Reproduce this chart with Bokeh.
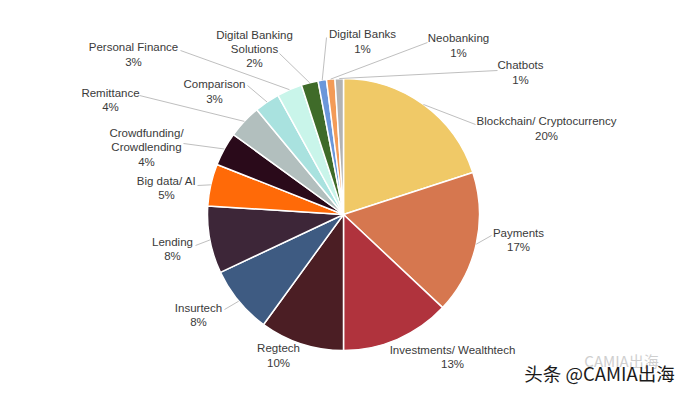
import math
from bokeh.plotting import figure
from bokeh.models import ColumnDataSource, Range1d
from bokeh.core.properties import value
from bokeh.embed import file_html
from bokeh.resources import INLINE

# ---- data ----
categories = ["Blockchain/ Cryptocurrency", "Payments", "Investments/ Wealthtech", "Regtech",
              "Insurtech", "Lending", "Big data/ AI", "Crowdfunding/\nCrowdlending", "Remittance",
              "Comparison", "Personal Finance", "Digital Banking\nSolutions", "Digital Banks",
              "Neobanking", "Chatbots"]
shares = [20, 17, 13, 10, 8, 8, 5, 4, 4, 3, 3, 2, 1, 1, 1]

# ---- styles ----
colors = ["#F0C967", "#D6774F", "#B0333D", "#4B1E24", "#3E5B82", "#3D2638", "#FF6A08",
          "#2A0A1A", "#B2BFBE", "#A9E2DF", "#C9F5EA", "#3F6B29", "#6B97DA", "#F39B57", "#B3B3B3"]

# ---- layout (page pixel coordinates) ----
label_x = [546, 518, 452, 278, 198, 172, 166, 146, 110, 214, 133, 254, 362, 458, 520]
label_y = [128, 239.5, 356.5, 355, 314.5, 248.5, 187.5, 147, 99.5, 91, 54, 48.5, 41, 45, 72]
anchor_x = [475, 491, None, None, 224, 195, 197, 183, 139, 247, 180, 279, 326, 427, 497]
anchor_y = [124, 235, None, None, 309, 245, 185, 143, 95, 85, 50, 53, 37, 42, 70]

W, H = 680, 385
M = 0


def fx(px):
    return px - M


def fy(py):
    return H + M - py


cx, cy, R = fx(343), fy(214), 136

total = float(sum(shares))
starts, ends, mids = [], [], []
acc = 0.0
for v in shares:
    a0 = acc / total
    acc += v
    a1 = acc / total
    starts.append(math.pi / 2 - 2 * math.pi * a0)
    ends.append(math.pi / 2 - 2 * math.pi * a1)
    mids.append(math.pi / 2 - 2 * math.pi * (a0 + a1) / 2)

p = figure(width=W, height=H, output_backend="svg", toolbar_location=None,
           x_range=Range1d(0, W), y_range=Range1d(0, H),
           x_axis_type=None, y_axis_type=None, min_border=0)
p.outline_line_color = None
p.grid.visible = False
p.background_fill_color = "white"
p.border_fill_color = "white"

src = ColumnDataSource(dict(start=starts, end=ends, color=colors))
p.wedge(x=cx, y=cy, radius=R, start_angle="start", end_angle="end", direction="clock",
        fill_color="color", line_color="white", line_width=1.5, source=src)

# leader lines
xs, ys = [], []
for i in range(len(shares)):
    if anchor_x[i] is None:
        continue
    ex = cx + R * math.cos(mids[i])
    ey = cy + R * math.sin(mids[i])
    xs.append([fx(anchor_x[i]), ex])
    ys.append([fy(anchor_y[i]), ey])
p.multi_line(xs=xs, ys=ys, line_color="#BFBFBF", line_width=1)

labels = [f"{c}\n{v}%" for c, v in zip(categories, shares)]
lsrc = ColumnDataSource(dict(x=[fx(v) for v in label_x], y=[fy(v) for v in label_y], t=labels))
p.text(x="x", y="y", text="t", source=lsrc, text_align="center", text_baseline="middle",
       text_font=value("Liberation Sans"), text_font_size="11.5px", text_color="#3A3A3A",
       text_line_height=1.2)

# watermark
p.text(x=[fx(621)], y=[fy(360)], text=["CAMIA出海"], text_align="center", text_baseline="middle",
       text_font=value("Noto Sans CJK SC"), text_font_size="15px", text_color="#CFCFCF")
p.text(x=[fx(599)], y=[fy(372)], text=["头条 @CAMIA出海"], text_align="center", text_baseline="middle",
       text_font=value("Noto Sans CJK SC"), text_font_size="18.5px", text_color="#1A1A1A")

open("out.html", "w").write(file_html(p, INLINE))
